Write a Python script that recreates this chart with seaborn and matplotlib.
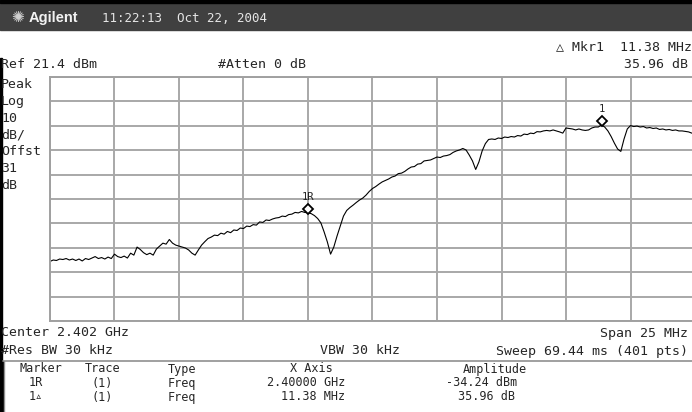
import numpy as np
import matplotlib
matplotlib.use("Agg")
import matplotlib.pyplot as plt
import matplotlib.transforms as mtransforms
from matplotlib.patches import Rectangle
from matplotlib.lines import Line2D
import seaborn as sns
import pandas as pd

# sweep settings (center 2.4025 GHz, span 25 MHz)
start_ghz = 2.390
stop_ghz = 2.415
ref_level = 21.4
db_per_div = 10

# trace every 0.125 MHz (dBm)
amp_dbm = [
    -54.2, -53.6, -53.8, -53.2, -53.4, -53.0, -53.6, -53.2, -53.8, -53.2,
    -54.0, -53.0, -53.4, -52.8, -52.2, -53.0, -52.6, -53.2, -52.4, -53.0,
    -51.2, -52.2, -52.6, -52.0, -52.8, -50.8, -51.6, -48.3, -49.3, -50.6,
    -51.4, -50.8, -51.6, -49.1, -47.9, -46.7, -47.1, -45.2, -46.7, -47.5,
    -47.9, -48.3, -48.7, -49.5, -50.8, -51.6, -49.5, -47.5, -46.1, -44.8,
    -44.2, -43.4, -43.6, -42.6, -43.0, -41.9, -42.4, -41.3, -41.5, -40.5,
    -40.7, -39.7, -39.9, -39.1, -39.3, -38.0, -38.2, -37.2, -37.4, -36.8,
    -36.4, -36.2, -35.6, -35.8, -35.0, -34.8, -34.1, -34.3, -33.7, -34.1,
    -34.24, -34.6, -35.4, -36.6, -38.4, -42.1, -46.2, -51.2, -48.3, -43.8,
    -39.7, -35.6, -33.3, -32.1, -31.1, -30.0, -29.0, -28.2, -27.0, -25.5,
    -24.3, -23.5, -22.5, -21.6, -21.0, -20.4, -19.6, -19.2, -18.2, -18.0,
    -17.3, -16.3, -15.5, -15.3, -14.3, -14.1, -13.0, -12.8, -12.6, -12.0,
    -11.4, -11.6, -11.0, -10.8, -10.4, -9.5, -8.9, -8.5, -7.9, -8.5,
    -10.6, -13.0, -16.5, -13.4, -8.9, -5.9, -4.2, -4.0, -4.2, -3.6,
    -3.8, -3.2, -3.4, -3.0, -3.2, -2.6, -2.8, -2.0, -2.2, -1.6,
    -1.8, -1.0, -1.1, -0.7, -0.5, -0.7, -0.3, -0.7, -1.1, -1.6,
    0.5, 0.3, 0.1, -0.3, 0.1, -0.3, -0.5, -0.3, 0.5, 0.9,
    0.9, 1.72, 0.9, -0.7, -3.0, -5.7, -8.1, -9.1, -4.0, 0.1,
    1.5, 1.1, 1.3, 0.9, 1.1, 0.5, 0.7, 0.3, 0.5, -0.1,
    0.1, -0.3, -0.1, -0.5, -0.3, -0.7, -0.7, -0.9, -1.1, -1.6,
    -1.8,
]

marker_freq = [2.40000, 2.41138]
marker_amp = [-34.24, 1.72]
marker_names = ["1R", "1"]

table_marker = ["1R", "1\u25b5"]
table_trace = ["(1)", "(1)"]
table_type = ["Freq", "Freq"]
table_xaxis = ["2.40000 GHz", "11.38 MHz"]
table_amp = ["-34.24 dBm", "35.96 dB"]

freq = np.linspace(start_ghz, stop_ghz, len(amp_dbm))
df = pd.DataFrame({"freq": freq, "amp": amp_dbm})

sns.set_style("white")
plt.rcParams["font.family"] = ["DejaVu Sans Mono", "DejaVu Sans"]

W, H = 692, 412
fig = plt.figure(figsize=(W / 100, H / 100), dpi=100)
fig.patch.set_facecolor("white")

ax = fig.add_axes([50 / W, (H - 321) / H, 645 / W, 244 / H])
sns.lineplot(data=df, x="freq", y="amp", color="black", lw=0.8,
             estimator=None, sort=False, ax=ax)
ax.set_xlim(start_ghz, stop_ghz)
ax.set_ylim(ref_level - 10 * db_per_div, ref_level)
ax.set_xticks(np.linspace(start_ghz, stop_ghz, 11))
ax.set_yticks(np.linspace(ref_level - 10 * db_per_div, ref_level, 11))
ax.tick_params(length=0, labelbottom=False, labelleft=False)
ax.grid(True, color="#a8a8a8", lw=1.4)
ax.set_axisbelow(True)
for s in ax.spines.values():
    s.set_color("#a0a0a0")
    s.set_linewidth(1.4)
ax.set_xlabel("")
ax.set_ylabel("")

# markers sit just above the trace
up = mtransforms.offset_copy(ax.transData, fig=fig, y=4, units="dots")
ax.plot(marker_freq, marker_amp, ls="none", marker="D", ms=5.5, mfc="white",
        mec="black", mew=1.3, transform=up, zorder=5, clip_on=False)
for f, a, n in zip(marker_freq, marker_amp, marker_names):
    ax.annotate(n, (f, a), xytext=(0, 11.5), textcoords="offset points",
                ha="center", va="center", fontsize=7.5, zorder=6)


def put(x, y, s, ha="left", size=9.5, **kw):
    fig.text(x / W, 1 - y / H, s, ha=ha, va="center", fontsize=size, **kw)


# title bar
fig.patches.append(Rectangle((0, 1 - 30 / H), 1, 30 / H, color="#404040",
                             transform=fig.transFigure, figure=fig))
fig.patches.append(Rectangle((0, 1 - 3 / H), 1, 3 / H, color="black",
                             transform=fig.transFigure, figure=fig))
put(17, 18, "\u273a", ha="center", size=11, color="#d0d0d0", family="DejaVu Sans")
put(29, 18, "Agilent", size=10.5, color="#f2f2f2", family="Liberation Sans",
    weight="bold")
put(102, 18, "11:22:13  Oct 22, 2004", size=9, color="#e6e6e6")

# left black edge and table frame
fig.patches.append(Rectangle((0, 0), 2 / W, (H - 58) / H, color="black",
                             transform=fig.transFigure, figure=fig))
fig.patches.append(Rectangle((0, 0), 3 / W, (H - 361) / H, color="black",
                             transform=fig.transFigure, figure=fig))
fig.lines.append(Line2D([3 / W, 1], [1 - 361 / H] * 2, color="#909090", lw=1.2,
                        transform=fig.transFigure, figure=fig))
fig.lines.append(Line2D([3.6 / W] * 2, [0, 1 - 361 / H], color="#909090", lw=1.0,
                        transform=fig.transFigure, figure=fig))

# header texts
put(692, 47, "\u25b3 Mkr1  11.38 MHz", ha="right")
put(1, 64, "Ref 21.4 dBm")
put(218, 64, "#Atten 0 dB")
put(688, 64, "35.96 dB", ha="right")
for i, s in enumerate(["Peak", "Log", "10", "dB/", "Offst", "31", "dB"]):
    put(1, 85 + 16.7 * i, s)

# footer texts
put(1, 333, "Center 2.402 GHz")
put(688, 333, "Span 25 MHz", ha="right")
put(1, 351, "#Res BW 30 kHz")
put(320, 351, "VBW 30 kHz")
put(688, 351, "Sweep 69.44 ms (401 pts)", ha="right")

# marker table
ts = 8.5
put(19, 369, "Marker", size=ts)
put(85, 369, "Trace", size=ts)
put(168, 369, "Type", size=ts)
put(333, 369, "X Axis", ha="right", size=ts)
put(463, 369, "Amplitude", size=ts)
for r in range(len(table_marker)):
    y = 383 + 14 * r
    put(29, y, table_marker[r], size=ts)
    put(92, y, table_trace[r], size=ts)
    put(168, y, table_type[r], size=ts)
    put(345, y, table_xaxis[r], ha="right", size=ts)
    put(446 if r == 0 else 458, y, table_amp[r], size=ts)

fig.savefig("out.png", dpi=100)
